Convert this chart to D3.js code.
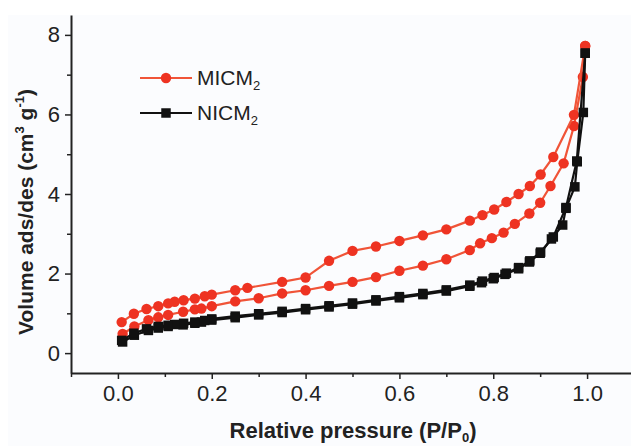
<!DOCTYPE html>
<meta charset="utf-8">
<style>
  body { margin: 0; background: #fff; }
  svg { display: block; font-family: "Liberation Sans", Arial, sans-serif; }
  .axis .domain { stroke: #222; stroke-width: 2; }
  .axis .tick line { stroke: #222; stroke-width: 1.5; }
  .axis .tick text { font-size: 22px; fill: #222; }
</style>
<body>
<script src="https://d3js.org/d3.v7.min.js"></script>
<script>

// MICM2 adsorption (lower branch) and desorption (upper branch)
var micmAdsX = [0.01, 0.035, 0.065, 0.086, 0.107, 0.139, 0.164, 0.178, 0.2, 0.25, 0.3, 0.35, 0.4, 0.45, 0.5, 0.55, 0.6, 0.65, 0.7, 0.75, 0.772, 0.797, 0.822, 0.846, 0.877, 0.9, 0.922, 0.95, 0.972, 0.991, 0.996];
var micmAdsY = [0.48, 0.67, 0.83, 0.9, 0.96, 1.04, 1.1, 1.12, 1.18, 1.3, 1.38, 1.5, 1.58, 1.69, 1.79, 1.91, 2.07, 2.2, 2.36, 2.59, 2.76, 2.89, 3.03, 3.25, 3.51, 3.78, 4.2, 4.77, 5.71, 6.94, 7.72];
var micmDesX = [0.996, 0.972, 0.928, 0.901, 0.878, 0.854, 0.828, 0.802, 0.777, 0.75, 0.7, 0.65, 0.6, 0.55, 0.5, 0.45, 0.4, 0.35, 0.276, 0.25, 0.2, 0.185, 0.164, 0.14, 0.121, 0.107, 0.086, 0.061, 0.034, 0.008];
var micmDesY = [7.72, 5.99, 4.93, 4.49, 4.2, 4.0, 3.8, 3.61, 3.47, 3.33, 3.11, 2.96, 2.82, 2.68, 2.57, 2.32, 1.9, 1.79, 1.64, 1.58, 1.47, 1.43, 1.37, 1.33, 1.29, 1.25, 1.18, 1.11, 0.99, 0.78];

// NICM2 adsorption and desorption (nearly overlapping)
var nicmAdsX = [0.01, 0.035, 0.065, 0.086, 0.107, 0.139, 0.164, 0.178, 0.2, 0.25, 0.3, 0.35, 0.4, 0.45, 0.5, 0.55, 0.6, 0.65, 0.7, 0.75, 0.775, 0.8, 0.825, 0.854, 0.877, 0.9, 0.924, 0.948, 0.955, 0.974, 0.979, 0.992, 0.996];
var nicmAdsY = [0.28, 0.45, 0.57, 0.63, 0.67, 0.71, 0.75, 0.78, 0.83, 0.89, 0.96, 1.02, 1.09, 1.16, 1.23, 1.31, 1.39, 1.47, 1.56, 1.68, 1.77, 1.87, 1.98, 2.12, 2.29, 2.51, 2.87, 3.22, 3.64, 4.18, 4.81, 6.05, 7.54];
var nicmDesX = [0.996, 0.978, 0.955, 0.928, 0.901, 0.878, 0.854, 0.828, 0.802, 0.777, 0.75, 0.7, 0.65, 0.6, 0.55, 0.5, 0.45, 0.4, 0.35, 0.3, 0.25, 0.2, 0.185, 0.164, 0.14, 0.121, 0.107, 0.086, 0.061, 0.034, 0.008];
var nicmDesY = [7.54, 4.83, 3.66, 2.92, 2.54, 2.32, 2.15, 2.01, 1.9, 1.81, 1.71, 1.59, 1.5, 1.42, 1.34, 1.26, 1.19, 1.12, 1.05, 0.99, 0.93, 0.86, 0.82, 0.78, 0.75, 0.72, 0.7, 0.67, 0.61, 0.5, 0.32];

var xTicks = [0.0, 0.2, 0.4, 0.6, 0.8, 1.0];
var xMinor = [-0.1, 0.1, 0.3, 0.5, 0.7, 0.9];
var yTicks = [0, 2, 4, 6, 8];
var yMinor = [1, 3, 5, 7];

var W = 631, H = 446;
var red = "#ee3322", redLine = "#f05438", black = "#111";
var circleSize = 85, squareSize = 90;

var svg = d3.select("body").append("svg")
  .attr("width", W).attr("height", H);

svg.append("rect").attr("x", 8).attr("y", 15)
  .attr("width", W - 8).attr("height", H - 15).attr("fill", "#fbfcfe");

var x = d3.scaleLinear().domain([-0.1, 1.1]).range([71, 634]);
var y = d3.scaleLinear().domain([-0.5, 8.5]).range([373, 15]);

// axes
svg.append("g").attr("class", "axis")
  .attr("transform", "translate(0," + y(-0.5) + ")")
  .call(d3.axisBottom(x).tickValues(xTicks).tickSize(6).tickSizeOuter(0).tickPadding(6)
    .tickFormat(d3.format(".1f")));
svg.append("g").attr("class", "axis")
  .attr("transform", "translate(0," + y(-0.5) + ")")
  .call(d3.axisBottom(x).tickValues(xMinor).tickSize(4).tickSizeOuter(0).tickFormat(""))
  .select(".domain").remove();

svg.append("g").attr("class", "axis")
  .attr("transform", "translate(" + x(-0.1) + ",0)")
  .call(d3.axisLeft(y).tickValues(yTicks).tickSize(6).tickSizeOuter(0).tickPadding(5));
svg.append("g").attr("class", "axis")
  .attr("transform", "translate(" + x(-0.1) + ",0)")
  .call(d3.axisLeft(y).tickValues(yMinor).tickSize(4).tickSizeOuter(0).tickFormat(""))
  .select(".domain").remove();

function pts(xs, ys) { return xs.map(function (d, i) { return [d, ys[i]]; }); }

var line = d3.line().x(function (d) { return x(d[0]); }).y(function (d) { return y(d[1]); });

function drawSeries(data, color, lineColor, shape) {
  svg.append("path").datum(data)
    .attr("d", line).attr("fill", "none")
    .attr("stroke", lineColor).attr("stroke-width", 2.2);
  var sym = d3.symbol().type(shape).size(shape === d3.symbolSquare ? squareSize : circleSize);
  svg.append("g").selectAll("path").data(data).join("path")
    .attr("transform", function (d) { return "translate(" + x(d[0]) + "," + y(d[1]) + ")"; })
    .attr("d", sym).attr("fill", color);
}

drawSeries(pts(micmAdsX, micmAdsY), red, redLine, d3.symbolCircle);
drawSeries(pts(micmDesX, micmDesY), red, redLine, d3.symbolCircle);
drawSeries(pts(nicmAdsX, nicmAdsY), black, black, d3.symbolSquare);
drawSeries(pts(nicmDesX, nicmDesY), black, black, d3.symbolSquare);

// legend
var legend = [
  { name: "MICM", color: red, lineColor: redLine, shape: d3.symbolCircle, y: 78 },
  { name: "NICM", color: black, lineColor: black, shape: d3.symbolSquare, y: 113 }
];
legend.forEach(function (l) {
  svg.append("line").attr("x1", 140).attr("x2", 192).attr("y1", l.y).attr("y2", l.y)
    .attr("stroke", l.lineColor).attr("stroke-width", 2.2);
  svg.append("path").attr("transform", "translate(166," + l.y + ")")
    .attr("d", d3.symbol().type(l.shape).size(l.shape === d3.symbolSquare ? squareSize : circleSize)())
    .attr("fill", l.color);
  var t = svg.append("text").attr("x", 197).attr("y", l.y + 7)
    .attr("font-size", 21).attr("fill", "#222");
  t.append("tspan").text(l.name);
  t.append("tspan").attr("font-size", 13).attr("dy", 5).text("2");
});

// axis titles
var yl = svg.append("text")
  .attr("transform", "translate(33,212) rotate(-90)")
  .attr("text-anchor", "middle").attr("font-size", 21).attr("font-weight", "bold").attr("fill", "#222");
yl.append("tspan").text("Volume ads/des (cm");
yl.append("tspan").attr("font-size", 13).attr("dy", -9).text("3");
yl.append("tspan").attr("dy", 9).text(" g");
yl.append("tspan").attr("font-size", 13).attr("dy", -9).text("-1");
yl.append("tspan").attr("dy", 9).text(")");

var xl = svg.append("text")
  .attr("x", 353).attr("y", 438)
  .attr("text-anchor", "middle").attr("font-size", 22).attr("font-weight", "bold").attr("fill", "#222");
xl.append("tspan").text("Relative pressure (P/P");
xl.append("tspan").attr("font-size", 13).attr("dy", 4).text("0");
xl.append("tspan").attr("dy", -4).text(")");

</script>
</body>
